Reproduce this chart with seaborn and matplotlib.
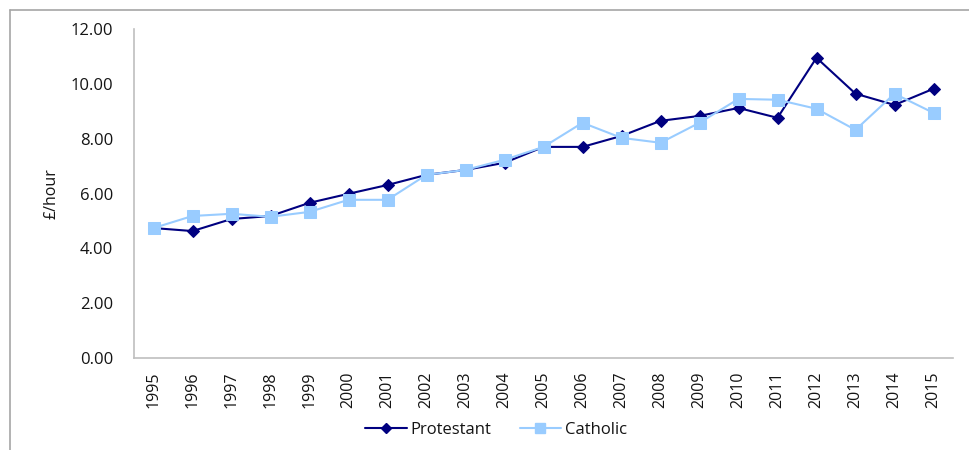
import matplotlib
matplotlib.use("Agg")
import matplotlib.pyplot as plt
import seaborn as sns
import pandas as pd
from matplotlib.lines import Line2D

years = [str(y) for y in range(1995, 2016)]
protestant = [4.74, 4.63, 5.07, 5.18, 5.66, 5.99, 6.31, 6.68, 6.86, 7.12, 7.70,
              7.70, 8.10, 8.65, 8.83, 9.12, 8.76, 10.95, 9.64, 9.23, 9.82]
catholic = [4.74, 5.18, 5.26, 5.15, 5.33, 5.77, 5.77, 6.68, 6.86, 7.23, 7.70,
            8.58, 8.03, 7.85, 8.58, 9.45, 9.42, 9.09, 8.32, 9.64, 8.94]
series_names = ["Protestant", "Catholic"]
yticks = [0, 2, 4, 6, 8, 10, 12]

sns.set_theme(style="white")
plt.rcParams['font.family'] = ['Open Sans', 'DejaVu Sans']

df = pd.DataFrame({
    "year": years * 2,
    "value": protestant + catholic,
    "group": [series_names[0]] * len(years) + [series_names[1]] * len(years),
})
df["pos"] = list(range(len(years))) * 2

fig = plt.figure(figsize=(9.7, 4.5), dpi=100)
ax = fig.add_axes([134 / 970, 1 - 358 / 450, (953 - 134) / 970, (358 - 29) / 450])

colors = {"Protestant": "#000080", "Catholic": "#99CCFF"}
markers = {"Protestant": "D", "Catholic": "s"}
sizes = {"Protestant": 6, "Catholic": 8}
txt = "#141414"

for name in ["Protestant", "Catholic"]:
    sub = df[df.group == name]
    sns.lineplot(data=sub, x="pos", y="value", ax=ax, color=colors[name],
                 marker=markers[name], markersize=sizes[name],
                 markeredgecolor=colors[name], linewidth=1.5, legend=False)

ax.set_xlim(-0.5, len(years) - 0.5)
ax.set_ylim(0, 12)
ax.set_xticks(range(len(years)))
ax.set_xticklabels(years, rotation=90)
ax.set_yticks(yticks)
ax.set_yticklabels([f"{v:.2f}" for v in yticks])
ax.tick_params(axis="both", length=0, labelcolor=txt)
ax.tick_params(axis="y", pad=15, labelsize=12)
ax.tick_params(axis="x", pad=10, labelsize=11.5)
ax.set_xlabel("")
ax.set_ylabel("£/hour", fontsize=11.5, color=txt, labelpad=8)
for s in ["top", "right"]:
    ax.spines[s].set_visible(False)
for s in ["left", "bottom"]:
    ax.spines[s].set_color("#BFBFBF")
    ax.spines[s].set_linewidth(1.2)

handles = [Line2D([0], [0], color=colors[n], marker=markers[n],
                  markersize=sizes[n] - 1, linewidth=1.5) for n in series_names]
leg = fig.legend(handles, series_names, loc="center",
                 bbox_to_anchor=(0.5 + 11 / 970, 1 - 430 / 450),
                 ncol=2, frameon=False, fontsize=12, handlelength=2.5, columnspacing=1.7,
                 handletextpad=0.2)
for t in leg.get_texts():
    t.set_color(txt)

# figure frame at top and left
fig.add_artist(Line2D([10 / 970, 1], [1 - 10 / 450, 1 - 10 / 450],
                      transform=fig.transFigure, color="#A6A6A6", linewidth=1.2))
fig.add_artist(Line2D([10 / 970, 10 / 970], [0, 1 - 10 / 450],
                      transform=fig.transFigure, color="#A6A6A6", linewidth=1.2))

fig.savefig("out.png", dpi=100)
